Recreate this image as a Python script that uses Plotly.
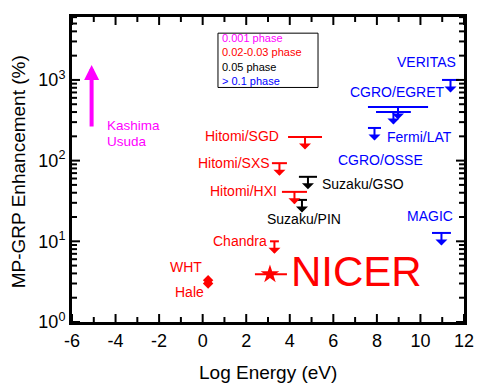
import numpy as np
import plotly.graph_objects as go

RED = "#ff0000"
BLUE = "#0000ff"
BLACK = "#000000"
MAGENTA = "#ff00ff"
FONT = "Liberation Sans, Arial, Helvetica, sans-serif"

# ---- upper limits (horizontal energy band + downward arrow) ----
ul_names = ["Hitomi/SGD", "Hitomi/SXS", "Hitomi/HXI", "Suzaku/GSO", "Suzaku/PIN",
            "Chandra", "VERITAS", "CGRO/EGRET", "CGRO/EGRET", "Fermi/LAT", "MAGIC"]
ul_xlo = [3.92, 3.18, 3.64, 4.42, 4.33, 3.09, 10.99, 7.59, 7.96, 7.59, 10.53]
ul_xhi = [5.48, 3.87, 4.79, 5.25, 4.79, 3.50, 11.77, 10.35, 9.56, 8.19, 11.40]
ul_y = [196, 93, 41, 63, 32.6, 10, 1000, 462, 400, 254, 12.7]
ul_phase = ["0.02-0.03", "0.02-0.03", "0.02-0.03", "0.05", "0.05",
            "0.02-0.03", ">0.1", ">0.1", ">0.1", ">0.1", ">0.1"]

# ---- detections ----
det_names = ["NICER", "WHT", "Hale"]
det_x = [3.09, 0.25, 0.25]
det_xlo = [2.40, 0.25, 0.25]
det_xhi = [3.87, 0.25, 0.25]
det_y = [3.9, 3.3, 3.0]

# ---- lower limit (Kashima / Usuda) ----
ll_x = -5.1
ll_y = 253
ll_ytop = 1530

phase_color = {"0.001": MAGENTA, "0.02-0.03": RED, "0.05": BLACK, ">0.1": BLUE}

# axis ranges and tick labels
X_RANGE = [-6, 12]
LOGY_RANGE = [0, 3.78]
x_ticks = [-6, -4, -2, 0, 2, 4, 6, 8, 10, 12]
x_ticktext = ["-6", "-4", "-2", "0", "2", "4", "6", "8", "10", "12"]
x_minor = [-5, -3, -1, 1, 3, 5, 7, 9, 11]
y_ticks = [1, 10, 100, 1000]
y_ticktext = ["10<sup>0</sup>", "10<sup>1</sup>", "10<sup>2</sup>", "10<sup>3</sup>"]
y_minor = [m * 10 ** k for k in range(0, 4) for m in range(2, 10)]

fig = go.Figure()
annotations = []
shapes = []

for n, lo, hi, y, ph in zip(ul_names, ul_xlo, ul_xhi, ul_y, ul_phase):
    c = phase_color[ph]
    fig.add_trace(go.Scatter(x=[lo, hi], y=[y, y], mode="lines",
                             line=dict(color=c, width=2), showlegend=False, hoverinfo="skip"))
    xc = (lo + hi) / 2
    annotations.append(dict(x=xc, y=np.log10(y), xref="x", yref="y", text="",
                            showarrow=True, ax=0, ay=14, arrowside="start",
                            arrowhead=1, arrowsize=1.2, arrowwidth=2, arrowcolor=c))

# NICER star
fig.add_trace(go.Scatter(x=[det_x[0]], y=[det_y[0]], mode="markers",
                         marker=dict(symbol="star", size=14, color=RED),
                         error_x=dict(type="data", symmetric=False,
                                      array=[det_xhi[0] - det_x[0]],
                                      arrayminus=[det_x[0] - det_xlo[0]],
                                      color=RED, thickness=2, width=0),
                         showlegend=False, hoverinfo="skip"))
# WHT / Hale
fig.add_trace(go.Scatter(x=det_x[1:], y=det_y[1:], mode="markers",
                         marker=dict(symbol="diamond", size=8, color=RED),
                         showlegend=False, hoverinfo="skip"))

# Lower-limit arrow
annotations.append(dict(x=ll_x, y=np.log10(ll_ytop), xref="x", yref="y",
                        ax=ll_x, ay=np.log10(ll_y), axref="x", ayref="y", text="",
                        showarrow=True, arrowhead=2, arrowsize=0.75, arrowwidth=4,
                        arrowcolor=MAGENTA))

def lab(text, x, ly, color, anchor, size=14):
    annotations.append(dict(x=x, y=ly, xref="x", yref="y", text=text, showarrow=False,
                            xanchor=anchor, yanchor="middle",
                            font=dict(family=FONT, size=size, color=color)))

lab("Kashima", -4.49, 2.44, MAGENTA, "left", 13.5)
lab("Usuda", -4.49, 2.24, MAGENTA, "left", 13.5)
lab("Hitomi/SGD", 3.60, 2.305, RED, "right")
lab("Hitomi/SXS", 3.18, 1.97, RED, "right")
lab("Hitomi/HXI", 3.50, 1.623, RED, "right")
lab("Suzaku/GSO", 5.39, 1.71, BLACK, "left")
lab("Suzaku/PIN", 4.63, 1.276, BLACK, "center")
lab("Chandra", 3.05, 1.004, RED, "right")
lab("WHT", 0.06, 0.682, RED, "right")
lab("Hale", 0.15, 0.372, RED, "right")
lab("NICER", 3.98, 0.62, RED, "left", 42)
lab("VERITAS", 11.72, 3.222, BLUE, "right")
lab("CGRO/EGRET", 11.22, 2.85, BLUE, "right")
lab("Fermi/LAT", 8.37, 2.292, BLUE, "left")
lab("CGRO/OSSE", 8.16, 2.007, BLUE, "center")
lab("MAGIC", 11.58, 1.313, BLUE, "right")

# legend box
legend_text = "<br>".join([
    f"<span style='color:{MAGENTA}'>0.001 phase</span>",
    f"<span style='color:{RED}'>0.02-0.03 phase</span>",
    f"<span style='color:{BLACK}'>0.05 phase</span>",
    f"<span style='color:{BLUE}'>&gt; 0.1 phase</span>",
])
annotations.append(dict(x=0.38, y=0.955, xref="paper", yref="paper", text=legend_text,
                        showarrow=False, xanchor="left", yanchor="top", align="left",
                        borderpad=0, font=dict(family=FONT, size=11)))
shapes.append(dict(type="rect", xref="paper", yref="paper", x0=0.3724, x1=0.6276,
                   y0=0.769, y1=0.947, line=dict(color="black", width=1)))

# axis titles
annotations.append(dict(x=0.5, y=-0.164, xref="paper", yref="paper", text="Log Energy (eV)",
                        showarrow=False, xanchor="center", yanchor="middle",
                        font=dict(family=FONT, size=19, color="black")))
annotations.append(dict(x=-0.138, y=0.494, xref="paper", yref="paper",
                        text="MP-GRP Enhancement (%)", textangle=-90,
                        showarrow=False, xanchor="center", yanchor="middle",
                        font=dict(family=FONT, size=19, color="black")))

# inside tick marks on all four sides, drawn as one line trace built from the tick lists
PW, PH = 392.0, 305.5           # plot-area size in px
MAJ, MIN = 8.0, 5.0             # tick lengths in px
ly0, ly1 = LOGY_RANGE
xspan = X_RANGE[1] - X_RANGE[0]
tx, ty = [], []
for v in x_ticks + x_minor:
    L = MAJ if v in x_ticks else MIN
    d = (ly1 - ly0) * L / PH
    for a, b in [(ly0, ly0 + d), (ly1, ly1 - d)]:
        tx += [v, v, None]
        ty += [10 ** a, 10 ** b, None]
for v in y_ticks + y_minor:
    L = MAJ if v in y_ticks else MIN
    d = xspan * L / PW
    for a, b in [(X_RANGE[0], X_RANGE[0] + d), (X_RANGE[1], X_RANGE[1] - d)]:
        tx += [a, b, None]
        ty += [v, v, None]
fig.add_trace(go.Scatter(x=tx, y=ty, mode="lines", line=dict(color="black", width=2),
                         connectgaps=False, showlegend=False, hoverinfo="skip", cliponaxis=False))

fig.update_layout(
    width=500, height=384,
    margin=dict(l=72, r=36, t=17, b=62, autoexpand=False),
    paper_bgcolor="white", plot_bgcolor="white",
    font=dict(family=FONT, size=18, color="black"),
    annotations=annotations, shapes=shapes,
    showlegend=False,
)
fig.update_xaxes(range=X_RANGE, tickmode="array", tickvals=x_ticks, ticktext=x_ticktext,
                 ticks="", showline=True, linewidth=3, linecolor="black", mirror=True,
                 showgrid=False, zeroline=False, tickfont=dict(size=18))
fig.update_yaxes(type="log", range=LOGY_RANGE, tickmode="array", tickvals=y_ticks,
                 ticktext=y_ticktext, ticks="", showline=True, linewidth=3,
                 linecolor="black", mirror=True, showgrid=False, zeroline=False,
                 tickfont=dict(size=18))

fig.write_html("out.html", config={"displayModeBar": False},
               post_script="document.body.style.margin='0';document.body.style.padding='0';")
